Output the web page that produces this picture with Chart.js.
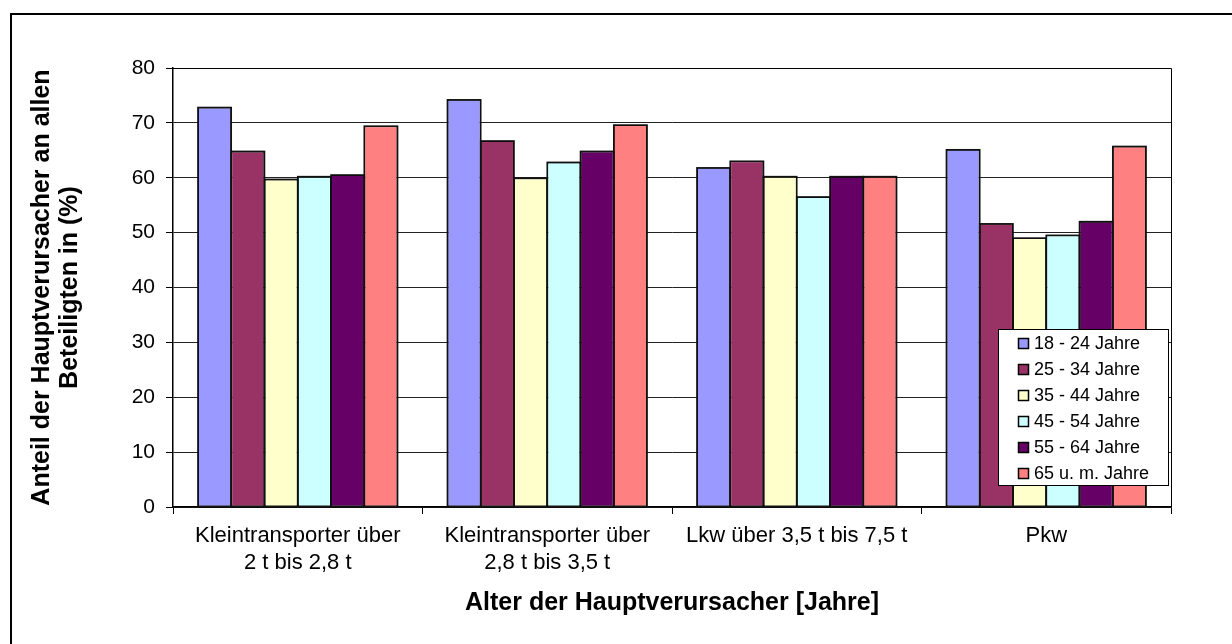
<!DOCTYPE html>
<html>
<head>
<meta charset="utf-8">
<script src="https://cdn.jsdelivr.net/npm/chart.js@4/dist/chart.umd.min.js"></script>
<style>
  body { margin: 0; background: #fff; }
</style>
</head>
<body>
<canvas id="myChart" width="1232" height="644"></canvas>
<script>
// categories (vehicle types) and one array per age group
var categories = [
    ['Kleintransporter über', '2 t bis 2,8 t'],
    ['Kleintransporter über', '2,8 t bis 3,5 t'],
    'Lkw über 3,5 t bis 7,5 t',
    'Pkw'
];
var seriesLabels = ['18 - 24 Jahre', '25 - 34 Jahre', '35 - 44 Jahre', '45 - 54 Jahre', '55 - 64 Jahre', '65 u. m. Jahre'];
var age18to24 = [72.8, 74.2, 61.8, 65.1];
var age25to34 = [64.8, 66.7, 63.0, 51.6];
var age35to44 = [59.7, 59.9, 60.2, 49.0];
var age45to54 = [60.2, 62.8, 56.5, 49.5];
var age55to64 = [60.5, 64.8, 60.2, 52.0];
var age65plus = [69.4, 69.6, 60.2, 65.7];
var yTicks = [0, 10, 20, 30, 40, 50, 60, 70, 80];

var colors = ['#9999FF', '#993366', '#FFFFCC', '#CCFFFF', '#660066', '#FF8080'];
var values = [age18to24, age25to34, age35to44, age45to54, age55to64, age65plus];

var font = "'Liberation Sans', Arial, sans-serif";

// outer frame + plot frame
var framePlugin = {
    id: 'frame',
    beforeDraw: function (chart) {
        var c = chart.ctx;
        c.save();
        c.strokeStyle = '#000';
        c.lineWidth = 2;
        c.beginPath();
        c.moveTo(11, 644);
        c.lineTo(11, 14);
        c.lineTo(1232, 14);
        c.stroke();
        c.restore();
    },
    beforeDatasetsDraw: function (chart) {
        var a = chart.chartArea;
        var c = chart.ctx;
        c.save();
        c.strokeStyle = '#000';
        c.lineWidth = 1;
        c.beginPath();
        c.moveTo(a.left, a.top + 0.5);
        c.lineTo(a.right + 0.5, a.top + 0.5);
        c.lineTo(a.right + 0.5, a.bottom);
        c.stroke();
        c.restore();
    },
    // dark outline around each bar, using the bar geometry chart.js computed
    afterDatasetsDraw: function (chart) {
        var c = chart.ctx;
        c.save();
        c.strokeStyle = '#111';
        c.lineWidth = 1.6;
        chart.data.datasets.forEach(function (ds, i) {
            chart.getDatasetMeta(i).data.forEach(function (bar) {
                var p = bar.getProps(['x', 'y', 'base', 'width'], true);
                c.strokeRect(p.x - p.width / 2, p.y, p.width, p.base - p.y);
            });
        });
        c.restore();
    }
};

// legend box drawn inside the plot area
var legendPlugin = {
    id: 'boxLegend',
    afterDraw: function (chart) {
        var a = chart.chartArea;
        var c = chart.ctx;
        var w = 170, h = 156;
        var x = a.right - 3 - w;
        var y = a.bottom - 22 - h;
        c.save();
        c.fillStyle = '#fff';
        c.fillRect(x, y, w, h);
        c.strokeStyle = '#000';
        c.lineWidth = 1;
        c.strokeRect(x + 0.5, y + 0.5, w, h);
        c.font = '18px ' + font;
        c.textBaseline = 'middle';
        c.textAlign = 'left';
        chart.data.datasets.forEach(function (ds, i) {
            var cy = y + 14 + i * 26;
            c.fillStyle = ds.backgroundColor;
            c.fillRect(x + 20, cy - 5, 10, 10);
            c.strokeStyle = '#000';
            c.lineWidth = 1.5;
            c.strokeRect(x + 20.5, cy - 4.5, 10, 10);
            c.fillStyle = '#000';
            c.fillText(ds.label, x + 36, cy + 1);
        });
        c.restore();
    }
};

var ctx = document.getElementById('myChart').getContext('2d');
var chart = new Chart(ctx, {
    type: 'bar',
    data: {
        labels: categories,
        datasets: values.map(function (v, i) {
            return {
                label: seriesLabels[i],
                data: v,
                backgroundColor: colors[i],
                borderColor: '#000000',
                borderWidth: 1,
                borderSkipped: false,
                categoryPercentage: 0.8,
                barPercentage: 1.0
            };
        })
    },
    options: {
        responsive: false,
        animation: false,
        layout: { padding: { left: 0, top: 68, right: 61, bottom: 0 } },
        plugins: {
            legend: { display: false },
            tooltip: { enabled: false }
        },
        scales: {
            x: {
                afterFit: function (s) { s.height = 137; },
                grid: { offset: true, drawOnChartArea: false, color: '#000', tickLength: 7, tickColor: '#000' },
                border: { color: '#000', width: 1.5 },
                ticks: { color: '#000', padding: 9, maxRotation: 0, autoSkip: false,
                         font: { family: font, size: 22, lineHeight: 1.2 } },
                title: {
                    display: true,
                    text: 'Alter der Hauptverursacher [Jahre]',
                    color: '#000',
                    font: { family: font, size: 25, weight: 'bold', lineHeight: 1.2 },
                    padding: { top: 0, bottom: 26 }
                }
            },
            y: {
                min: 0,
                max: 80,
                afterFit: function (s) { s.width = 173; },
                afterBuildTicks: function (s) { s.ticks = yTicks.map(function (v) { return { value: v }; }); },
                grid: { color: '#222', tickLength: 7, tickColor: '#000' },
                border: { color: '#000', width: 1.5 },
                ticks: { color: '#000', padding: 11, font: { family: font, size: 21 } },
                title: {
                    display: true,
                    text: ['Anteil der Hauptverursacher an allen', 'Beteiligten in (%)'],
                    color: '#000',
                    font: { family: font, size: 25, weight: 'bold', lineHeight: 1.12 },
                    padding: { top: 28, bottom: 0 }
                }
            }
        }
    },
    plugins: [framePlugin, legendPlugin]
});
</script>
</body>
</html>
